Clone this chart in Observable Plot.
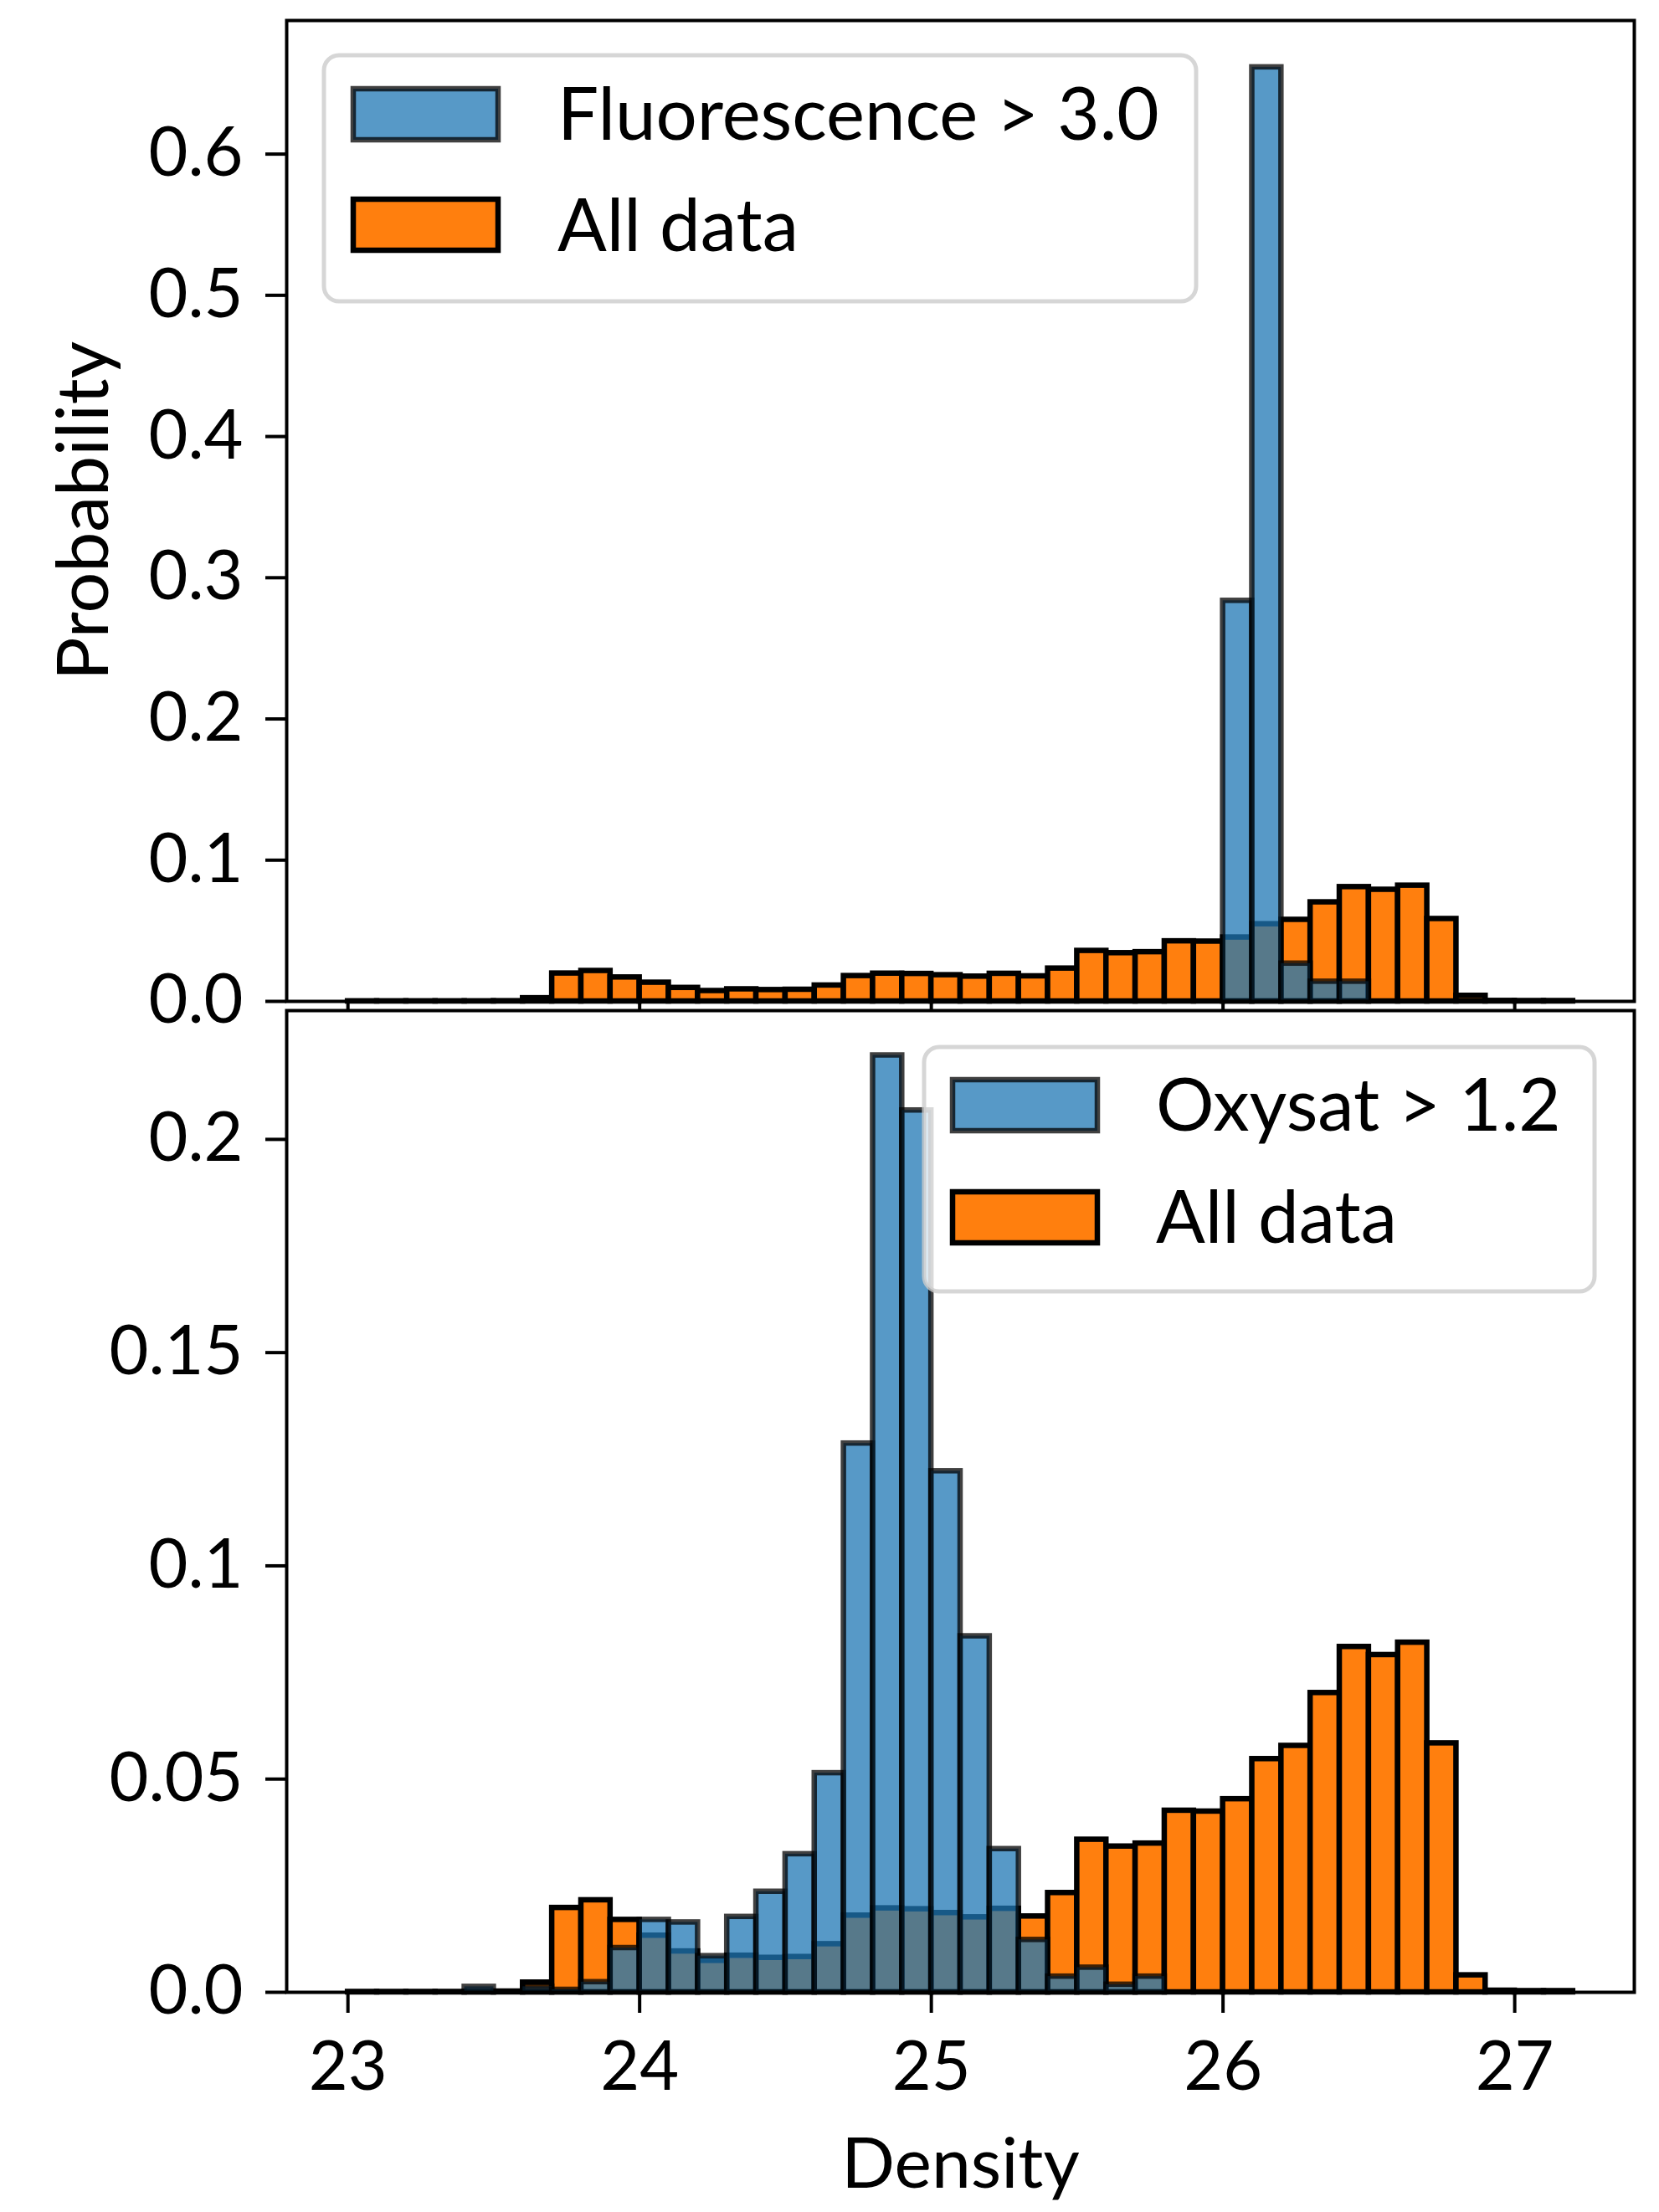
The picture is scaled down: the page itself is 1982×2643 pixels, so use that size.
<!DOCTYPE html>
<html>
<head>
<meta charset="utf-8">
<script src="https://cdn.jsdelivr.net/npm/d3@7"></script>
<script src="https://cdn.jsdelivr.net/npm/@observablehq/plot@0.6"></script>
<style>
html, body { margin: 0; padding: 0; background: #fff; }
#wrap { position: relative; width: 1982px; height: 2643px; overflow: hidden; font-family: Lato, sans-serif; }
#wrap > svg { position: absolute; left: 0; }
</style>
</head>
<body>
<div id="wrap"></div>
<script>
// ---- Data (histogram bins of Density, width 0.1) ----
const binLeft = [23.0, 23.1, 23.2, 23.3, 23.4, 23.5, 23.6, 23.7, 23.8, 23.9,
                 24.0, 24.1, 24.2, 24.3, 24.4, 24.5, 24.6, 24.7, 24.8, 24.9,
                 25.0, 25.1, 25.2, 25.3, 25.4, 25.5, 25.6, 25.7, 25.8, 25.9,
                 26.0, 26.1, 26.2, 26.3, 26.4, 26.5, 26.6, 26.7, 26.8, 26.9,
                 27.0, 27.1];
const binWidth = 0.1;

// "All data" probability per bin (same in both panels)
const allData = [0.0001, 0.0001, 0.0001, 0.0001, 0.0001, 0.0002, 0.0023, 0.0198, 0.0216, 0.0170,
                 0.0133, 0.0096, 0.0074, 0.0086, 0.0081, 0.0083, 0.0113, 0.0180, 0.0197, 0.0195,
                 0.0186, 0.0176, 0.0196, 0.0178, 0.0233, 0.0358, 0.0342, 0.0349, 0.0426, 0.0424,
                 0.0453, 0.0547, 0.0578, 0.0702, 0.0810, 0.0791, 0.0820, 0.0584, 0.0040, 0.0004,
                 0.0003, 0.0003];

// "Fluorescence > 3.0" probability per bin (top panel)
const fluorescence = [0, 0, 0, 0, 0, 0, 0, 0, 0, 0,
                      0, 0, 0, 0, 0, 0, 0, 0, 0, 0,
                      0, 0, 0, 0, 0, 0, 0, 0, 0, 0,
                      0.2837, 0.6615, 0.0268, 0.0140, 0.0140, 0, 0, 0, 0, 0,
                      0, 0];

// "Oxysat > 1.2" probability per bin (bottom panel)
const oxysat = [0, 0, 0, 0, 0.0013, 0, 0.0013, 0.0006, 0.0024, 0.0104,
                0.0170, 0.0164, 0.0085, 0.0177, 0.0236, 0.0324, 0.0514, 0.1287, 0.2197, 0.2068,
                0.1222, 0.0835, 0.0336, 0.0123, 0.0037, 0.0058, 0.0018, 0.0037, 0, 0,
                0, 0, 0, 0, 0, 0, 0, 0, 0, 0,
                0, 0];

const xTicks = [23, 24, 25, 26, 27];
const yTicksTop = [0, 0.1, 0.2, 0.3, 0.4, 0.5, 0.6];
const yTicksBottom = [0, 0.05, 0.1, 0.15, 0.2];

const topLegendLabels = ["Fluorescence > 3.0", "All data"];
const bottomLegendLabels = ["Oxysat > 1.2", "All data"];

// ---- Build tables ----
const rows = (vals, keepZero) => binLeft.map((x, i) => ({x1: x, x2: +(x + binWidth).toFixed(2), v: vals[i]}))
  .filter(d => keepZero || d.v > 0);
const allRows = rows(allData, true);
const fluoRows = rows(fluorescence, false);
const oxyRows = rows(oxysat, false);

const BLUE = "#1f77b4", ORANGE = "#ff7f0e";
const FONT = "Lato, sans-serif";
const xDomain = [22.79, 27.41];
const fmt = d => d === 0 ? "0.0" : String(+d.toFixed(2));

function bars(data, fill, alpha) {
  return Plot.rect(data, {
    x1: "x1", x2: "x2", y1: 0, y2: "v",
    fill, fillOpacity: alpha, stroke: "black", strokeOpacity: alpha, strokeWidth: 6.5
  });
}

const wrap = document.getElementById("wrap");

// ---- Top panel ----
const topPlot = Plot.plot({
  width: 1982, height: 1226,
  marginLeft: 342, marginRight: 30, marginTop: 24, marginBottom: 30,
  style: {fontFamily: FONT, fontSize: "80px", background: "transparent", color: "black", overflow: "visible"},
  x: {domain: xDomain, label: null},
  y: {domain: [0, 0.6946], label: null},
  marks: [
    bars(allRows, ORANGE, 1),
    bars(fluoRows, BLUE, 0.75),
    Plot.frame({stroke: "black", strokeWidth: 4}),
    Plot.axisY({ticks: yTicksTop, tickSize: 25, tickPadding: 27, strokeWidth: 4, tickFormat: d => d.toFixed(1), fontSize: 81, label: null}),
    Plot.axisX({ticks: xTicks, tickSize: 11, strokeWidth: 4, tickFormat: () => "", label: null}),
    Plot.text(["Probability"], {text: d => d, frameAnchor: "left", dx: -241, rotate: -90, textAnchor: "middle", lineAnchor: "middle", fontSize: 86, fill: "black"})
  ]
});
topPlot.style.top = "0px";
wrap.appendChild(topPlot);

// ---- Bottom panel ----
const BOT_TOP = 1180;
const botPlot = Plot.plot({
  width: 1982, height: 1463,
  marginLeft: 342, marginRight: 30, marginTop: 27, marginBottom: 263,
  style: {fontFamily: FONT, fontSize: "80px", background: "transparent", color: "black", overflow: "visible"},
  x: {domain: xDomain, label: null},
  y: {domain: [0, 0.2302], label: null},
  marks: [
    bars(allRows, ORANGE, 1),
    bars(oxyRows, BLUE, 0.75),
    Plot.frame({stroke: "black", strokeWidth: 4}),
    Plot.axisY({ticks: yTicksBottom, tickSize: 25, tickPadding: 27, strokeWidth: 4, tickFormat: fmt, fontSize: 81, label: null}),
    Plot.axisX({ticks: xTicks, tickSize: 25, tickPadding: 34, strokeWidth: 4, tickFormat: d => String(d), fontSize: 81, label: null}),
    Plot.text(["Density"], {text: d => d, frameAnchor: "bottom", dy: 207, textAnchor: "middle", lineAnchor: "middle", fontSize: 84, fill: "black"})
  ]
});
botPlot.style.top = BOT_TOP + "px";
wrap.appendChild(botPlot);

// ---- Legends ----
function legend(svgEl, box, labels, textX, patchX, patchYs, baselines) {
  const g = d3.select(svgEl).append("g").attr("text-anchor", "start");
  g.append("rect")
    .attr("x", box.x).attr("y", box.y).attr("width", box.w).attr("height", box.h)
    .attr("rx", 18).attr("ry", 18)
    .attr("fill", "white").attr("fill-opacity", 0.8)
    .attr("stroke", "#cccccc").attr("stroke-opacity", 0.8).attr("stroke-width", 5);
  const styles = [{fill: BLUE, a: 0.75}, {fill: ORANGE, a: 1}];
  labels.forEach((lab, i) => {
    g.append("rect")
      .attr("x", patchX).attr("y", patchYs[i]).attr("width", 173).attr("height", 61)
      .attr("fill", styles[i].fill).attr("fill-opacity", styles[i].a)
      .attr("stroke", "black").attr("stroke-opacity", styles[i].a).attr("stroke-width", 6.5);
    g.append("text")
      .attr("x", textX).attr("y", baselines[i])
      .attr("text-anchor", "start")
      .attr("font-family", FONT).attr("font-size", 87).attr("fill", "black")
      .text(lab);
  });
}

legend(topPlot, {x: 387, y: 66, w: 1042, h: 294}, topLegendLabels, 666, 422, [106, 238], [167, 300]);
legend(botPlot, {x: 1104, y: 1251 - BOT_TOP, w: 801, h: 292}, bottomLegendLabels, 1381, 1138, [1290 - BOT_TOP, 1424 - BOT_TOP], [1351 - BOT_TOP, 1485 - BOT_TOP]);
</script>
</body>
</html>
